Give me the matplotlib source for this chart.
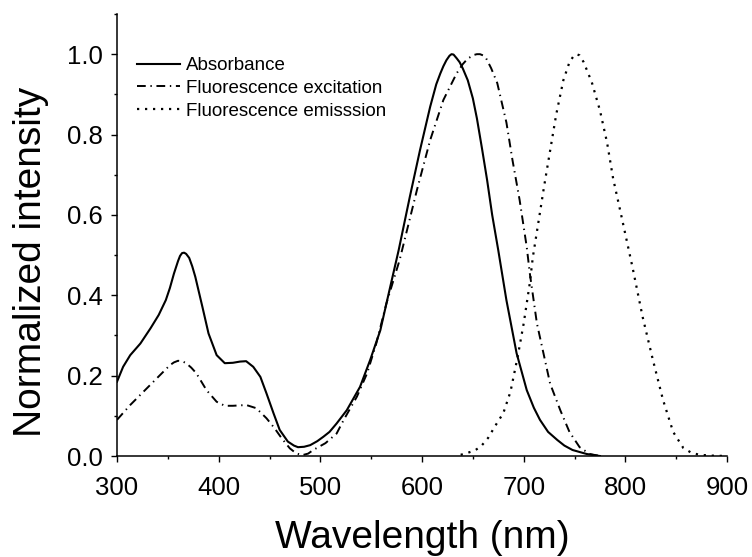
import matplotlib
matplotlib.use("Agg")
import matplotlib.pyplot as plt
from matplotlib.ticker import MultipleLocator

plt.rcParams['font.family'] = ['Liberation Sans', 'DejaVu Sans']

# absorbance spectrum (nm, normalized)
abs_wl = [300, 306, 313, 323, 333, 341, 348, 352, 356, 360, 362, 364, 366, 368,
          371, 374, 377, 384, 390, 398, 406, 414, 421, 427, 434, 441, 447, 454,
          460, 468, 474, 478, 484, 490, 497, 503, 509, 516, 526, 539, 549, 559,
          568, 577, 588, 598, 608, 614, 618, 621, 624, 627, 629, 631, 634, 637,
          640, 645, 650, 654, 659, 664, 669, 675, 683, 693, 703, 710, 716, 724,
          733, 740, 748, 762, 775]
abs_val = [0.185, 0.222, 0.251, 0.28, 0.318, 0.351, 0.388, 0.418, 0.454, 0.485,
           0.498, 0.505, 0.506, 0.503, 0.493, 0.472, 0.446, 0.371, 0.305, 0.251,
           0.231, 0.232, 0.235, 0.236, 0.222, 0.197, 0.156, 0.106, 0.065, 0.036,
           0.026, 0.022, 0.023, 0.027, 0.037, 0.048, 0.06, 0.081, 0.114, 0.172,
           0.239, 0.313, 0.413, 0.512, 0.645, 0.761, 0.869, 0.925, 0.952, 0.97,
           0.985, 0.996, 1.0, 0.999, 0.99, 0.98, 0.965, 0.935, 0.89, 0.84, 0.765,
           0.687, 0.6, 0.512, 0.388, 0.256, 0.164, 0.12, 0.09, 0.06, 0.04, 0.026,
           0.015, 0.005, 0.0]

# fluorescence excitation
exc_wl = [300, 313, 326, 339, 352, 356, 360, 364, 368, 373, 378, 388, 398, 406,
          414, 421, 427, 437, 447, 455, 462, 470, 476, 482, 488, 493, 505, 516,
          523, 536, 546, 555, 565, 578, 595, 608, 621, 634, 640, 645, 651, 654,
          657, 660, 663, 668, 674, 683, 689, 696, 703, 706, 713, 726, 736, 745,
          755, 765, 775]
exc_val = [0.09, 0.127, 0.16, 0.193, 0.226, 0.233, 0.237, 0.236, 0.231, 0.22,
           0.206, 0.164, 0.135, 0.125, 0.125, 0.126, 0.127, 0.119, 0.094, 0.069,
           0.044, 0.019, 0.007, 0.002, 0.006, 0.015, 0.032, 0.056, 0.09, 0.148,
           0.206, 0.28, 0.38, 0.488, 0.662, 0.786, 0.886, 0.952, 0.975, 0.989,
           0.998, 1.0, 1.0, 0.997, 0.99, 0.965, 0.928, 0.83, 0.736, 0.637, 0.52,
           0.455, 0.33, 0.18, 0.114, 0.06, 0.022, 0.005, 0.0]

# fluorescence emission
emi_wl = [638, 645, 652, 658, 665, 672, 680, 687, 694, 700, 706, 709, 715, 720,
          726, 732, 739, 745, 749, 752, 755, 759, 767, 775, 782, 788, 795, 801,
          807, 817, 827, 837, 847, 857, 865, 873, 885, 900]
emi_val = [0.003, 0.008, 0.014, 0.024, 0.045, 0.075, 0.107, 0.16, 0.246, 0.33,
           0.43, 0.495, 0.59, 0.67, 0.76, 0.85, 0.935, 0.98, 0.995, 1.0, 0.997,
           0.98, 0.93, 0.86, 0.78, 0.69, 0.61, 0.54, 0.47, 0.346, 0.24, 0.14,
           0.06, 0.02, 0.008, 0.003, 0.001, 0.0]

labels = ["Absorbance", "Fluorescence excitation", "Fluorescence emisssion"]

fig = plt.figure(figsize=(7.52, 5.57), dpi=100)
ax = fig.add_axes([0.1556, 0.1813, 0.8112, 0.7936])

ax.plot(abs_wl, abs_val, color='black', lw=1.5, label=labels[0])
ax.plot(exc_wl, exc_val, color='black', lw=1.4, ls=(0, (4.5, 2.4, 0.7, 2.4)),
        label=labels[1])
ax.plot(emi_wl, emi_val, color='black', lw=1.6, ls=(0, (1, 2.6)),
        label=labels[2])

ax.set_xlim(300, 900)
ax.set_ylim(0, 1.1)
ax.xaxis.set_major_locator(MultipleLocator(100))
ax.xaxis.set_minor_locator(MultipleLocator(50))
ax.yaxis.set_minor_locator(MultipleLocator(0.1))
ax.set_yticks([0.0, 0.2, 0.4, 0.6, 0.8, 1.0])
ax.set_yticklabels(['0.0', '0.2', '0.4', '0.6', '0.8', '1.0'])

for s in ['top', 'right']:
    ax.spines[s].set_visible(False)
for s in ['left', 'bottom']:
    ax.spines[s].set_linewidth(1.1)

ax.tick_params(which='major', direction='out', length=4.5, width=1.0,
               labelsize=18.5)
ax.tick_params(axis='x', which='major', pad=10)
ax.tick_params(axis='y', which='major', pad=6)
ax.tick_params(which='minor', direction='out', length=2.5, width=1.0)

ax.set_xlabel("Wavelength (nm)", fontsize=28, labelpad=14)
ax.set_ylabel("Normalized intensity", fontsize=28)
ax.yaxis.set_label_coords(-0.112, 0.44)

ax.legend(loc='upper left', bbox_to_anchor=(0.033, 0.902), frameon=False,
          fontsize=13.5, handlelength=2.3, handletextpad=0.3,
          labelspacing=0.29, borderpad=0, borderaxespad=0)

fig.savefig("out.png", dpi=100)
